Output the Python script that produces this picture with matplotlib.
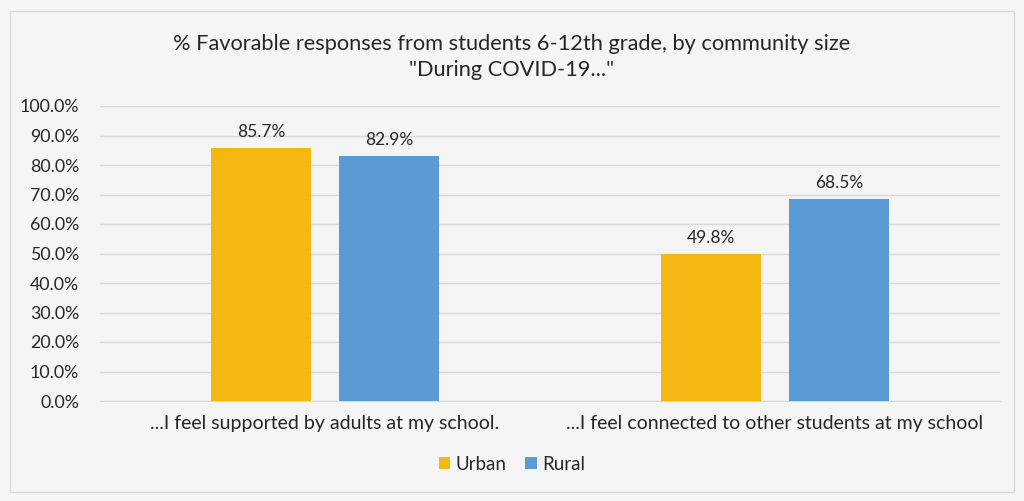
import numpy as np
import matplotlib.pyplot as plt
from matplotlib.patches import Rectangle
from matplotlib.ticker import FuncFormatter

categories = ["...I feel supported by adults at my school.",
              "...I feel connected to other students at my school"]
urban = [85.7, 49.8]
rural = [82.9, 68.5]

plt.rcParams['font.family'] = ['Lato', 'DejaVu Sans']
bg = "#f5f5f5"
c_urban = "#f5b712"
c_rural = "#5b9bd5"
txt = "#262626"

fig = plt.figure(figsize=(10.24, 5.01), dpi=100, facecolor=bg)
fig.patches.append(Rectangle((10 / 1024, 1 - 492 / 501), 1004 / 1024, 481 / 501,
                             transform=fig.transFigure, fill=False,
                             edgecolor="#d9d9d9", linewidth=1))

ax = fig.add_axes([100 / 1024, 1 - 401 / 501, 900 / 1024, 295 / 501])
ax.set_facecolor(bg)

x = np.arange(len(categories))
w = 0.222
off = 0.142
b1 = ax.bar(x - off, urban, w, color=c_urban, label="Urban", zorder=3)
b2 = ax.bar(x + off, rural, w, color=c_rural, label="Rural", zorder=3)
for bars in (b1, b2):
    for b in bars:
        ax.text(b.get_x() + b.get_width() / 2, b.get_height() + 2.7,
                f"{b.get_height():.1f}%", ha="center", va="bottom",
                fontsize=12.5, color=txt)

ax.set_xlim(-0.5, 1.5)
ax.set_ylim(0, 100)
ax.set_yticks(np.arange(0, 101, 10))
ax.yaxis.set_major_formatter(FuncFormatter(lambda v, p: f"{v:.1f}%"))
ax.set_xticks(x)
ax.set_xticklabels(categories)
ax.tick_params(axis="both", length=0, colors=txt)
ax.tick_params(axis="x", pad=10, labelsize=14)
ax.tick_params(axis="y", pad=15, labelsize=12.8)
ax.grid(axis="y", color="#d9d9d9", linewidth=1, zorder=0)
for s in ["top", "right", "left"]:
    ax.spines[s].set_visible(False)
ax.spines["bottom"].set_color("#d9d9d9")

fig.text(0.5, 1 - 44 / 501, "% Favorable responses from students 6-12th grade, by community size",
         ha="center", va="center", fontsize=15.7, color=txt)
fig.text(0.5, 1 - 70 / 501, '"During COVID-19..."',
         ha="center", va="center", fontsize=15.7, color=txt)

fig.legend(handles=[b1, b2], loc="center", bbox_to_anchor=(0.5, 1 - 464 / 501),
           ncol=2, frameon=False, fontsize=13.5, handlelength=0.6, handleheight=0.6,
           handletextpad=0.3, columnspacing=1.0, labelcolor=txt)

fig.savefig("out.png", dpi=100, facecolor=bg)
